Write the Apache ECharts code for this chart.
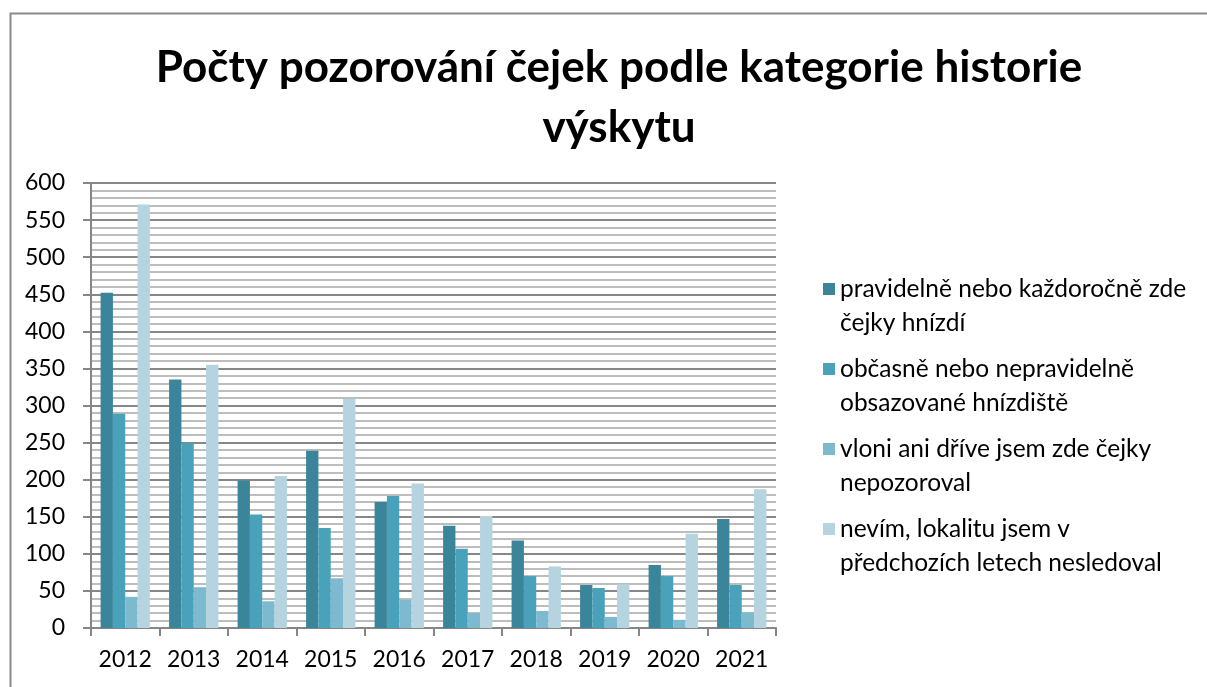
<!DOCTYPE html>
<html>
<head>
<meta charset="utf-8">
<script src="https://cdn.jsdelivr.net/npm/echarts@6/dist/echarts.min.js"></script>
<style>
  html, body { margin: 0; padding: 0; background: #fff; }
  #main { width: 1207px; height: 687px; }
</style>
</head>
<body>
<div id="main"></div>
<script>
// data
var years = ['2012', '2013', '2014', '2015', '2016', '2017', '2018', '2019', '2020', '2021'];
var seriesNames = [
  'pravidelně nebo každoročně zde čejky hnízdí',
  'občasně nebo nepravidelně obsazované hnízdiště',
  'vloni ani dříve jsem zde čejky nepozoroval',
  'nevím, lokalitu jsem v předchozích letech nesledoval'
];
// zalomení legendy do dvou řádků
var legendLines = [
  'pravidelně nebo každoročně zde\nčejky hnízdí',
  'občasně nebo nepravidelně\nobsazované hnízdiště',
  'vloni ani dříve jsem zde čejky\nnepozoroval',
  'nevím, lokalitu jsem v\npředchozích letech nesledoval'
];
var pravidelne = [452, 335, 199, 239, 170, 138, 118, 58, 85, 147];
var obcasne    = [289, 249, 153, 135, 178, 107, 70, 54, 70, 58];
var vloni      = [42, 55, 36, 67, 38, 20, 23, 15, 11, 21];
var nevim      = [571, 355, 205, 309, 195, 151, 83, 59, 127, 187];
var colors = ['#3a8599', '#4aa2ba', '#7db9cf', '#b5d4df'];

var font = 'Lato, "Open Sans", sans-serif';
var myChart = echarts.init(document.getElementById('main'));

var values = [pravidelne, obcasne, vloni, nevim];
var series = values.map(function (v, i) {
  return {
    name: seriesNames[i],
    type: 'bar',
    data: v,
    barGap: '0%',
    barCategoryGap: '28%',
    itemStyle: { color: colors[i] },
    emphasis: { disabled: true }
  };
});

var option = {
  animation: false,
  textStyle: { fontFamily: font },
  title: {
    text: 'Počty pozorování čejek podle kategorie historie\nvýskytu',
    left: 614,
    top: 33,
    textAlign: 'center',
    textStyle: {
      fontFamily: font,
      fontSize: 44,
      fontWeight: 'bold',
      color: '#000',
      lineHeight: 60
    }
  },
  legend: {
    orient: 'vertical',
    left: 818,
    top: 267,
    itemGap: 12,
    itemWidth: 12,
    itemHeight: 68,
    icon: 'path://M0,11H12V23H0Z M0,0 M0,68',
    data: seriesNames,
    formatter: function (name) {
      return legendLines[seriesNames.indexOf(name)];
    },
    textStyle: {
      fontFamily: font,
      fontSize: 24.5,
      lineHeight: 34,
      color: '#000'
    }
  },
  grid: { left: 91, right: 431, top: 183, bottom: 59 },
  xAxis: {
    type: 'category',
    data: years,
    axisLine: { lineStyle: { color: '#868686', width: 2 } },
    axisTick: { show: true, length: 8, lineStyle: { color: '#868686', width: 2 } },
    axisLabel: { color: '#000', fontSize: 23, fontFamily: font, margin: 20, interval: 0, hideOverlap: false }
  },
  yAxis: {
    type: 'value',
    min: 0,
    max: 600,
    interval: 50,
    axisLine: { show: true, lineStyle: { color: '#868686', width: 2 } },
    axisTick: { show: true, length: 8, lineStyle: { color: '#868686', width: 2 } },
    axisLabel: { color: '#000', fontSize: 23, fontFamily: font, margin: 26 },
    splitLine: { show: true, lineStyle: { color: '#878787', width: 2 } },
    minorTick: { show: false, splitNumber: 5 },
    minorSplitLine: { show: true, lineStyle: { color: '#bdbdbd', width: 2 } }
  },
  graphic: [{
    type: 'rect',
    left: 8,
    top: 11,
    shape: { width: 1300, height: 800 },
    style: { fill: 'none', stroke: '#8a8a8a', lineWidth: 2 },
    silent: true
  }],
  series: series
};

myChart.setOption(option);
</script>
</body>
</html>
